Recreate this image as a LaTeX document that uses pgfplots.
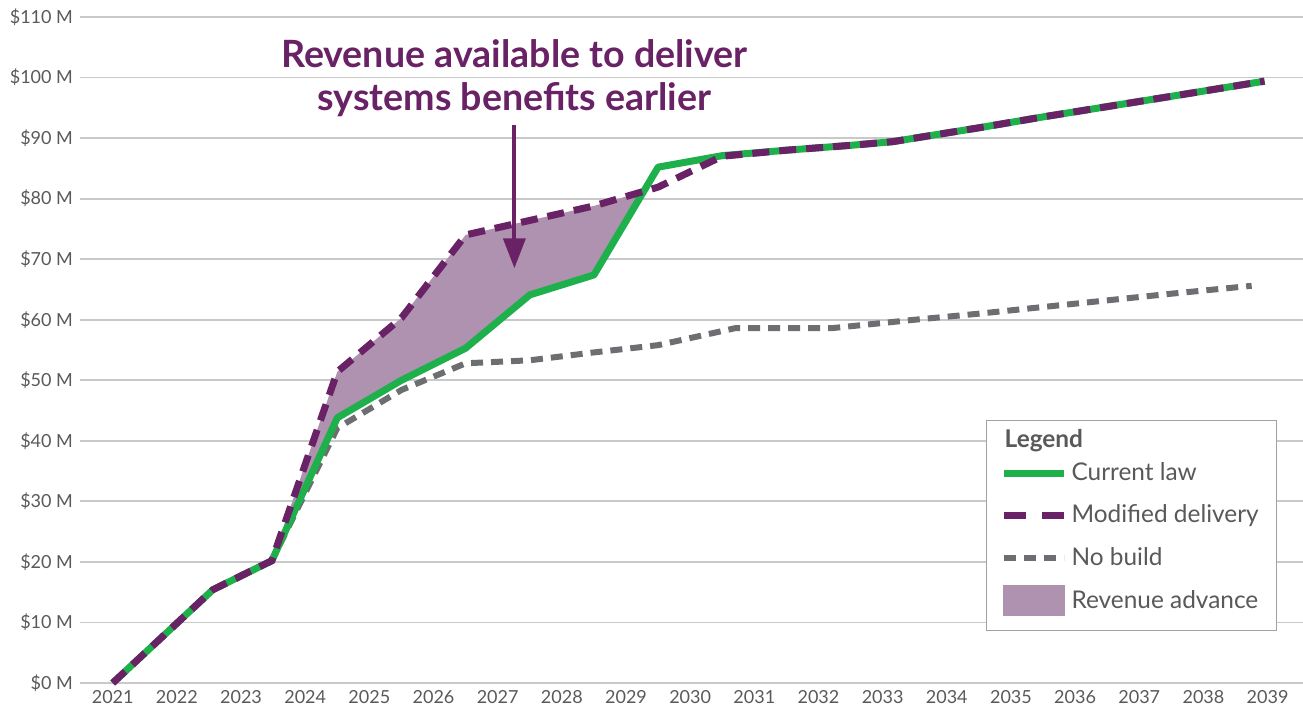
\documentclass[border=0pt]{standalone}
\usepackage{fontspec}
\setmainfont{Lato}
\usepackage{pgfplots}
\pgfplotsset{compat=1.18}
\usepgfplotslibrary{fillbetween}
\usetikzlibrary{arrows.meta}

\definecolor{curgreen}{HTML}{1DB04B}
\definecolor{purp}{HTML}{692265}
\definecolor{nobuild}{HTML}{6D6E71}
\definecolor{revfill}{HTML}{AF92AF}
\definecolor{tickc}{HTML}{595959}
\definecolor{gridc}{HTML}{C9C9C9}

\begin{document}
\begin{tikzpicture}
\begin{axis}[
  scale only axis,
  width=611.5pt, height=333pt,
  xmin=2020.49, xmax=2039.55,
  ymin=0, ymax=110,
  xtick={2021,...,2039},
  ytick={0,10,...,110},
  ymajorgrids,
  grid style={line width=0.9pt, color=gridc},
  axis line style={draw=none},
  major tick length=0pt,
  clip=false,
  tick label style={font=\fontsize{9}{11}\selectfont, text=tickc},
  /pgf/number format/assume math mode=true,
  /pgf/number format/1000 sep={},
  yticklabel={\$\pgfmathprintnumber{\tick} M},
  legend cell align=left,
  legend style={at={(0.979,0.395)}, anchor=north east,
    draw=gridc!80!black, line width=0.6pt,
    font=\fontsize{12.2}{14}\selectfont, text=tickc,
    inner xsep=7pt, inner ysep=7pt, row sep=6.6pt},
]

% shaded gap between modified delivery and current law
\addplot[name path=cur, draw=none, forget plot] coordinates {
  (2021,0) (2022.56,15.4) (2023.48,20.2) (2024.5,43.8) (2025.5,50.0)
  (2026.5,55.3) (2027.5,64.1) (2028.5,67.4) (2029.5,85.2) (2030.5,87.1)
};
\addplot[name path=mod, draw=none, forget plot] coordinates {
  (2021,0) (2022.56,15.4) (2023.48,20.2) (2024.5,51.4) (2025.5,60.3)
  (2026.5,74.0) (2027.5,76.4) (2028.5,78.8) (2029.5,81.9) (2030.5,87.0)
};
\addplot[revfill, forget plot] fill between[of=mod and cur, soft clip={domain=2023.48:2029.28}];

% no build
\addplot[nobuild, line width=3pt, dash pattern=on 6pt off 4pt, forget plot] coordinates {
  (2021,0) (2022.56,15.4) (2023.48,20.2) (2024.5,42.1) (2025.5,48.4)
  (2026.5,52.8) (2027.5,53.3) (2028.5,54.6) (2029.5,55.8) (2030.7,58.6)
  (2032.2,58.6) (2033.5,60.0) (2034.5,61.0) (2035.5,62.1) (2036.5,63.2)
  (2037.5,64.3) (2038.75,65.6)
};
% current law
\addplot[curgreen, line width=3.5pt, line join=round, forget plot] coordinates {
  (2021,0) (2022.56,15.4) (2023.48,20.2) (2024.5,43.8) (2025.5,50.0)
  (2026.5,55.3) (2027.5,64.1) (2028.5,67.4) (2029.5,85.2) (2030.5,87.1)
  (2031.5,88.0) (2032.5,88.8) (2033.15,89.4) (2034.5,91.7) (2035.5,93.5)
  (2036.5,95.2) (2037.5,96.9) (2038.95,99.4)
};
% modified delivery
\addplot[purp, line width=3.5pt, dash pattern=on 8.5pt off 5pt, forget plot] coordinates {
  (2021,0) (2022.56,15.4) (2023.48,20.2) (2024.5,51.4) (2025.5,60.3)
  (2026.5,74.0) (2027.5,76.4) (2028.5,78.8) (2029.5,81.9) (2030.5,87.0)
  (2031.5,88.0) (2032.5,88.8) (2033.15,89.4) (2034.5,91.7) (2035.5,93.5)
  (2036.5,95.2) (2037.5,96.9) (2038.95,99.4)
};

\addlegendimage{legend image code/.code={\node[overlay, anchor=west, inner sep=0pt, font=\fontsize{12.2}{14}\selectfont\bfseries, text=tickc] at (0pt,0pt) {Legend};}}
\addlegendentry{}
\addlegendimage{legend image code/.code={\draw[curgreen, line width=3.5pt] (0pt,0pt) -- (30pt,0pt);}}
\addlegendentry{Current law}
\addlegendimage{legend image code/.code={\draw[purp, line width=3.5pt, dash pattern=on 11pt off 8pt] (0pt,0pt) -- (30pt,0pt);}}
\addlegendentry{Modified delivery}
\addlegendimage{legend image code/.code={\draw[nobuild, line width=3pt, dash pattern=on 6pt off 4pt] (0pt,0pt) -- (30pt,0pt);}}
\addlegendentry{No build}
\addlegendimage{legend image code/.code={\fill[revfill] (0pt,-7.5pt) rectangle (30pt,7.5pt);}}
\addlegendentry{Revenue advance}

\node[font=\fontsize{18.8}{21.5}\selectfont\bfseries, text=purp, align=center]
  at (axis cs:2027.26,99.9) {Revenue available to deliver\\systems benefits earlier};
\draw[purp, line width=2pt, -{Triangle[width=11pt,length=15pt]}]
  (axis cs:2027.26,92.2) -- (axis cs:2027.26,68.5);
\end{axis}
\pgfresetboundingbox
\path[use as bounding box] (current axis.south west) ++(-40pt,-14.5pt) rectangle ++(651.5pt,356pt);
\end{tikzpicture}
\end{document}
